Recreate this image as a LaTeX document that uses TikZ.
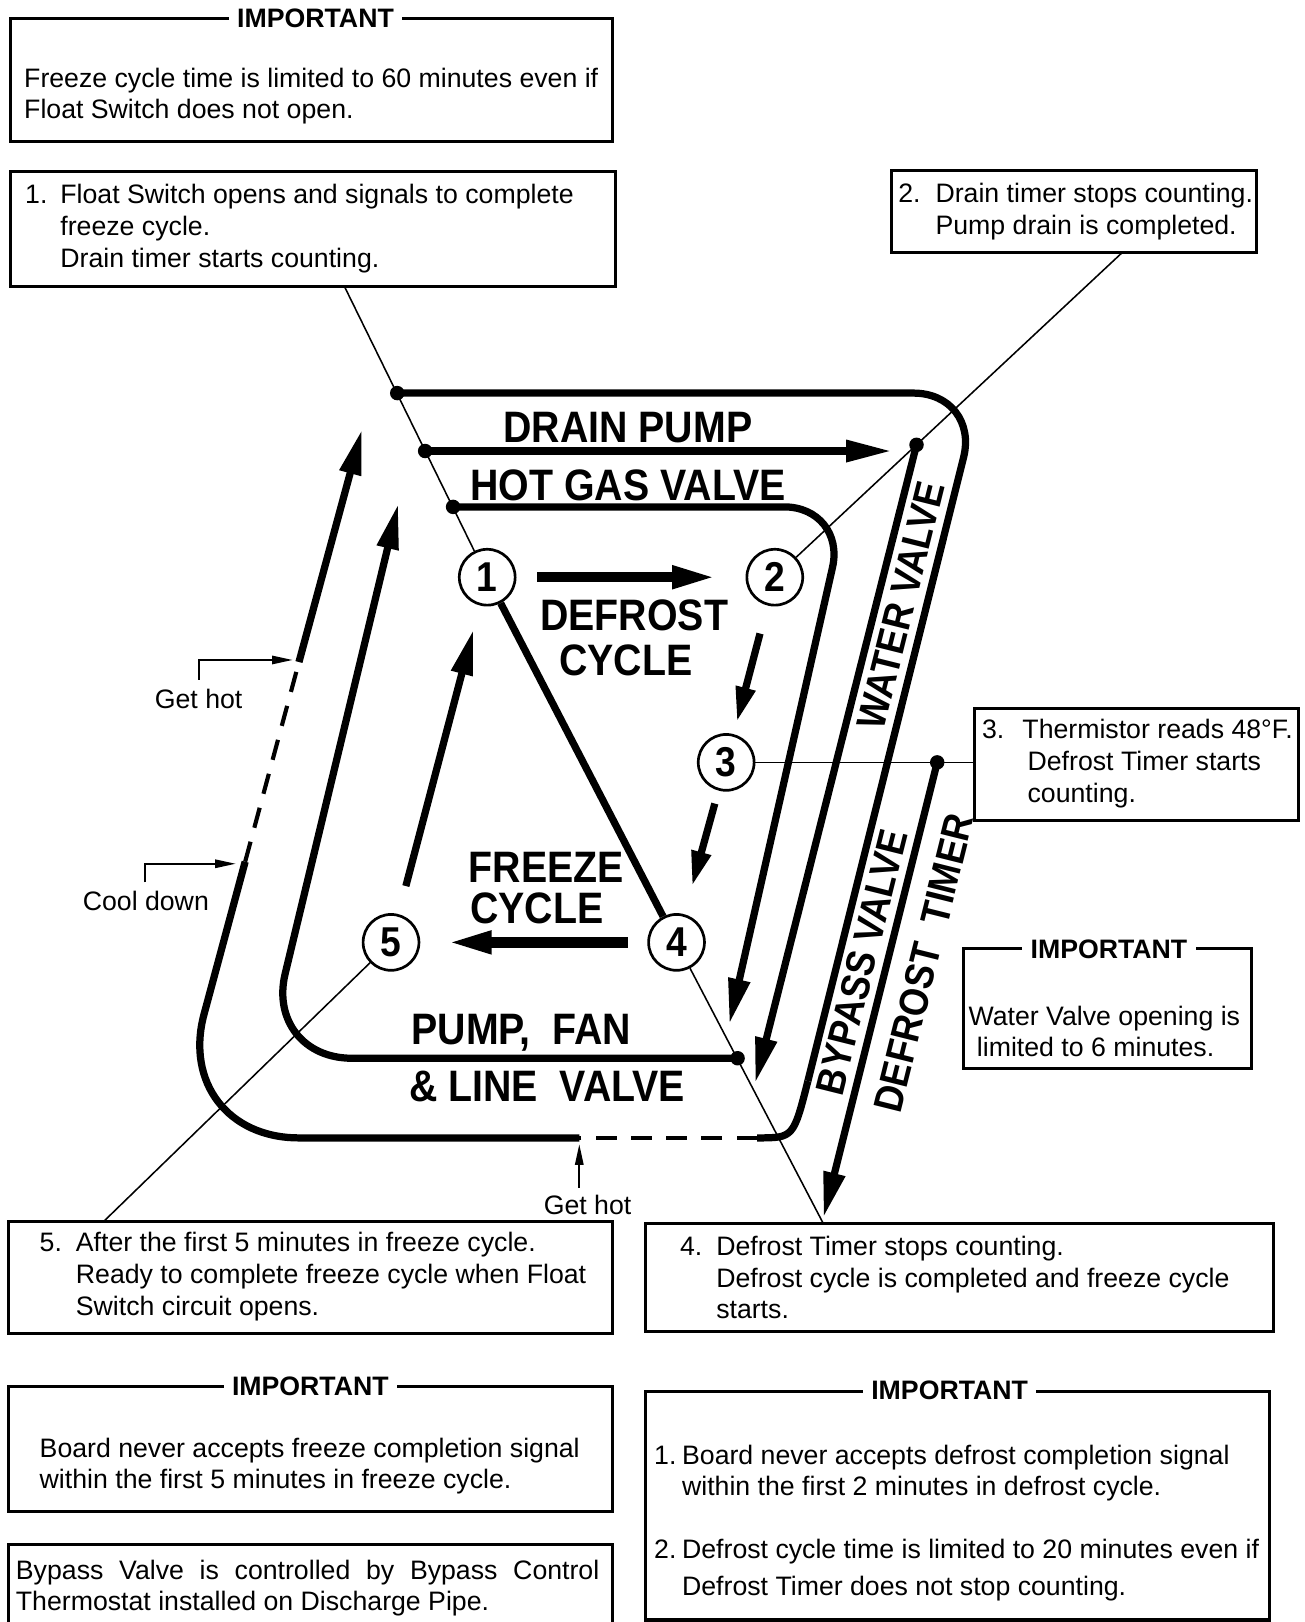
\documentclass[tikz,border=0pt]{standalone}
\usepackage{fontspec}
\setmainfont{Liberation Sans}
\usetikzlibrary{arrows.meta,fit}
\newcommand\vstr[1]{\scalebox{1}[1.12]{#1}}
\begin{document}
\begin{tikzpicture}[x=0.5pt,y=-0.5pt,
  boxst/.style={draw, line width=1.5pt, inner sep=0pt},
  ttl/.style={fill=white, inner xsep=4pt, inner ysep=1pt, font=\bfseries\fontsize{12.9}{15}\selectfont},
  txt/.style={anchor=base west, inner sep=0pt, font=\fontsize{12.9}{15}\selectfont},
  lbl/.style={inner sep=0pt, font=\fontsize{12.9}{15}\selectfont},
  num/.style={circle, draw, fill=white, line width=1.3pt, minimum size=27pt, inner sep=0pt, font=\bfseries\fontsize{18}{18}\selectfont},
  dot/.style={circle, fill, minimum size=7pt, inner sep=0pt},
  pipe/.style={line width=3.5pt},
  fat/.style={line width=5pt},
  tip/.style={-{Triangle[length=22pt,width=10pt]}},
  stip/.style={-{Triangle[length=17pt,width=9pt]}},
  hint/.style={line width=0.75pt},
  dsh/.style={line width=2pt, dash pattern=on 10pt off 7pt},
  big/.style={inner sep=0pt, font=\bfseries\fontsize{19}{22}\selectfont},
  rot/.style={inner sep=0pt, rotate=76, font=\bfseries\fontsize{17.5}{20}\selectfont},
  sarr/.style={line width=1pt, -{Triangle[length=10pt,width=4pt]}}]
\useasboundingbox (0,0) rectangle (1261,1568);

% ---------- text boxes ----------
\node[boxst, fit={(10,18)(592,137)}] (imptop) {};
\node[ttl] (imptopt) at (305,18) {IMPORTANT};
\node[txt] (imptop1) at (23,85) {Freeze cycle time is limited to 60 minutes even if};
\node[txt] (imptop2) at (23,115) {Float Switch does not open.};

\node[boxst, fit={(10,166)(595,277)}] (box1) {};
\node[txt] (b1n) at (24,197) {1.};
\node[txt] (b1a) at (58,197) {Float Switch opens and signals to complete};
\node[txt] (b1b) at (58,228) {freeze cycle.};
\node[txt] (b1c) at (58,259) {Drain timer starts counting.};

\node[boxst, fit={(862,165)(1215,244)}] (box2) {};
\node[txt] (b2n) at (868,196) {2.};
\node[txt] (b2a) at (904,196) {Drain timer stops counting.};
\node[txt] (b2b) at (904,227) {Pump drain is completed.};

\node[boxst, fit={(942,685)(1255,793)}] (box3) {};
\node[txt] (b3n) at (949,714) {3.};
\node[txt] (b3a) at (988,714) {Thermistor reads 48°F.};
\node[txt] (b3b) at (993,745) {Defrost Timer starts};
\node[txt] (b3c) at (993,776) {counting.};

\node[boxst, fit={(931,917)(1210,1033)}] (impwv) {};
\node[ttl] (impwvt) at (1072,918) {IMPORTANT};
\node[txt] (impwv1) at (936,991) {Water Valve opening is};
\node[txt] (impwv2) at (944,1021) {limited to 6 minutes.};

\node[boxst, fit={(8,1181)(592,1289)}] (box5) {};
\node[txt] (b5n) at (38,1210) {5.};
\node[txt] (b5a) at (73,1210) {After the first 5 minutes in freeze cycle.};
\node[txt] (b5b) at (73,1241) {Ready to complete freeze cycle when Float};
\node[txt] (b5c) at (73,1272) {Switch circuit opens.};

\node[boxst, fit={(624,1183)(1231,1287)}] (box4) {};
\node[txt] (b4n) at (657,1214) {4.};
\node[txt] (b4a) at (692,1214) {Defrost Timer stops counting.};
\node[txt] (b4b) at (692,1245) {Defrost cycle is completed and freeze cycle};
\node[txt] (b4c) at (692,1275) {starts.};

\node[boxst, fit={(8,1340)(592,1461)}] (impbl) {};
\node[ttl] (impblt) at (300,1340) {IMPORTANT};
\node[txt] (impbl1) at (38,1409) {Board never accepts freeze completion signal};
\node[txt] (impbl2) at (38,1439) {within the first 5 minutes in freeze cycle.};

\node[boxst, fit={(624,1345)(1227,1566)}] (impbr) {};
\node[ttl] (impbrt) at (918,1344) {IMPORTANT};
\node[txt] (impbr1n) at (632,1416) {1.};
\node[txt] (impbr1a) at (659,1416) {Board never accepts defrost completion signal};
\node[txt] (impbr1b) at (659,1446) {within the first 2 minutes in defrost cycle.};
\node[txt] (impbr2n) at (632,1507) {2.};
\node[txt] (impbr2a) at (659,1507) {Defrost cycle time is limited to 20 minutes even if};
\node[txt] (impbr2b) at (659,1542) {Defrost Timer does not stop counting.};

\draw[line width=1.5pt] (8,1574) -- (8,1493) -- (592,1493) -- (592,1574);
\node[txt] (bp1) at (15,1527) {\makebox[282pt][s]{Bypass Valve is controlled by Bypass Control}};
\node[txt] (bp2) at (15,1557) {Thermostat installed on Discharge Pipe.};

% ---------- step circles ----------
\node[num] (n1) at (471,558) {\vstr{1}};
\node[num] (n2) at (749,558) {\vstr{2}};
\node[num] (n3) at (702,737) {\vstr{3}};
\node[num] (n4) at (654,911) {\vstr{4}};
\node[num] (n5) at (378,911) {\vstr{5}};

% ---------- callout anchors ----------
\coordinate (c1) at (333,277);
\coordinate (c2) at (1085,244);
\coordinate (c3) at (942,737);
\coordinate (c4) at (796,1183);
\coordinate (c5) at (100,1181);

\draw[hint] (c1) -- (n1);
\draw[hint] (c2) -- (n2);
\draw[hint] (n3) -- (c3);
\draw[hint] (n4) -- (c4);
\draw[hint] (n5) -- (c5);

% ---------- dots ----------
\node[dot] (dA) at (384,380) {};
\node[dot] (dB) at (411,436) {};
\node[dot] (dC) at (438,490) {};
\node[dot] (dD) at (886,430) {};
\node[dot] (dE) at (906,737) {};
\node[dot] (dF) at (713,1023) {};

% ---------- corner / end coordinates ----------
\coordinate (TR) at (947,380);
\coordinate (RA) at (781,1045);
\coordinate (BR) at (767,1100);
\coordinate (BRe) at (732,1100);
\coordinate (BM) at (560,1100);
\coordinate (BL) at (165,1100);
\coordinate (LA) at (237,833);
\coordinate (LB) at (289,640);
\coordinate (LT) at (350,415);
\coordinate (BLi) at (256,1023);
\coordinate (Ti) at (385,487);
\coordinate (TRh) at (818,490);
\coordinate (Th) at (705,990);
\coordinate (Tdp) at (862,436);
\coordinate (Twv) at (730,1047);
\coordinate (Tdt) at (796,1177);

% ---------- thick lines ----------
% outer loop (drain pump / bypass valve)
\draw[pipe, rounded corners=32pt] (dA.center) -- (TR) -- (RA);
\draw[pipe] (RA) .. controls (BR) .. (BRe);
\draw[dsh] (BRe) -- (BM);
\draw[pipe, rounded corners=62pt] (BM) -- (BL) -- (LA);
\draw[dsh] (LA) -- (LB);
\draw[pipe, tip] (LB) -- (LT);
% drain pump
\draw[pipe, tip] (dB.center) -- (Tdp);
% hot gas valve
\draw[pipe, tip, rounded corners=30pt] (dC.center) -- (TRh) -- (Th);
% water valve
\draw[pipe, tip] (dD.center) -- (Twv);
% defrost timer
\draw[pipe, tip] (dE.center) -- (Tdt);
% pump, fan & line valve
\draw[pipe, tip, rounded corners=42pt] (dF.center) -- (BLi) -- (Ti);

% ---------- cycle arrows ----------
\draw[fat, tip, shorten <=10pt, shorten >=13.5pt] (n1) -- (n2);
\draw[pipe, stip, shorten <=14pt, shorten >=6pt] (n2) -- (n3);
\draw[pipe, stip, shorten <=6.5pt, shorten >=14pt] (n3) -- (n4);
\draw[fat, tip, shorten <=9.5pt, shorten >=12.5pt] (n4) -- (n5);
\draw[pipe, tip, shorten <=14pt, shorten >=12pt] (n5) -- (n1);
\draw[pipe] (n1) -- (n4);

% ---------- big labels ----------
\node[big] (lDP) at (607,413) {\vstr{DRAIN PUMP}};
\node[big] (lHG) at (607,469) {\vstr{HOT GAS VALVE}};
\node[big] (lDC1) at (613,595) {\vstr{DEFROST}};
\node[big] (lDC2) at (605,638) {\vstr{CYCLE}};
\node[big] (lFC1) at (528,838) {\vstr{FREEZE}};
\node[big] (lFC2) at (519,878) {\vstr{CYCLE}};
\node[big] (lPF1) at (504,998) {\vstr{PUMP,\ \ FAN}};
\node[big] (lPF2) at (529,1050) {\vstr{\&\ LINE\ \ VALVE}};
\node[rot] (lWV) at (871,585) {\vstr{WATER VALVE}};
\node[rot] (lBV) at (833,930) {\vstr{BYPASS VALVE}};
\node[rot] (lDT) at (893,931) {\vstr{DEFROST\ \ TIMER}};

% ---------- hot / cool hints ----------
\node[lbl] (gh1) at (192,676) {Get hot};
\coordinate (gh1a) at (192,657);
\coordinate (gh1b) at (192,638);
\coordinate (gh1c) at (283,638);
\draw[sarr] (gh1a) -- (gh1b) -- (gh1c);

\node[lbl] (cd) at (141,871) {Cool down};
\coordinate (cda) at (140,853);
\coordinate (cdb) at (140,835);
\coordinate (cdc) at (228,835);
\draw[sarr] (cda) -- (cdb) -- (cdc);

\node[lbl] (gh2) at (568,1165) {Get hot};
\coordinate (gh2a) at (560,1148);
\coordinate (gh2b) at (560,1106);
\draw[sarr] (gh2a) -- (gh2b);
\end{tikzpicture}
\end{document}
